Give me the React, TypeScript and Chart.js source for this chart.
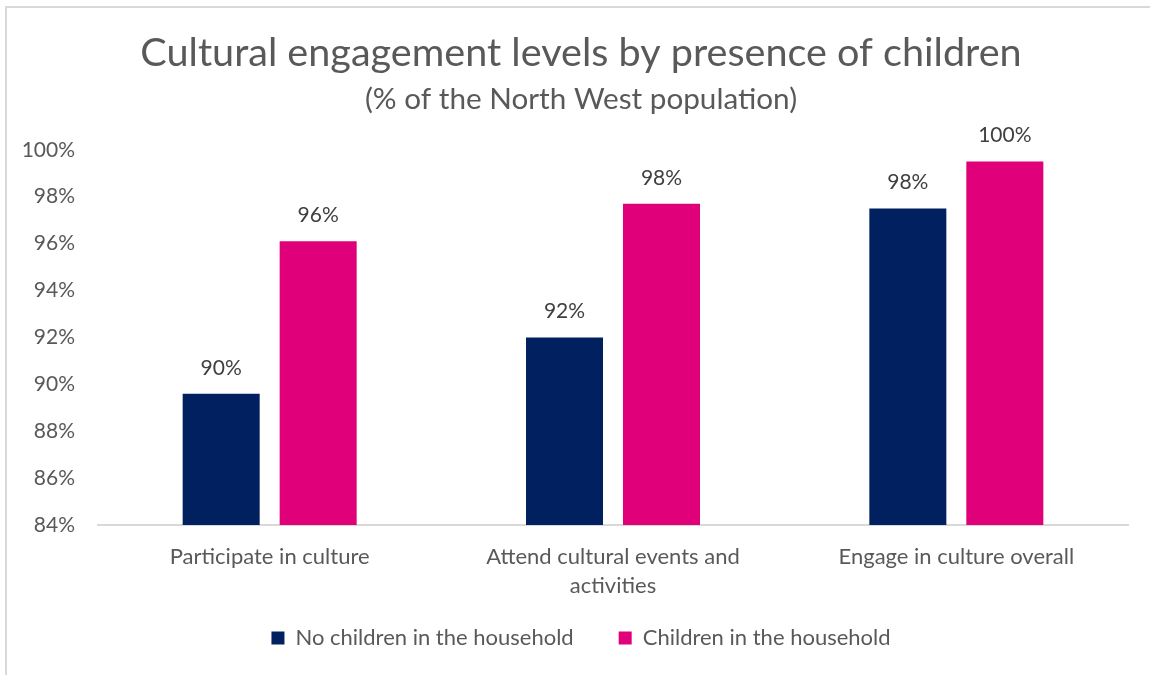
import React, { useEffect, useRef } from "react";
import { Chart, registerables } from "chart.js";

Chart.register(...registerables);

const categories: (string | string[])[] = [
  "Participate in culture",
  ["Attend cultural events and", "activities"],
  "Engage in culture overall",
];
const noChildren = [89.6, 92.0, 97.5];
const withChildren = [96.1, 97.7, 99.5];
const seriesNames = ["No children in the household", "Children in the household"];
const titleText = "Cultural engagement levels by presence of children";
const subtitleText = "(% of the North West population)";

const FONT = "Lato, 'Open Sans', sans-serif";
const GRAY = "#595959";

const dataLabels = {
  id: "dataLabels",
  afterDatasetsDraw(chart: any) {
    const ctx = chart.ctx;
    ctx.save();
    ctx.font = `21px ${FONT}`;
    ctx.fillStyle = "#404040";
    ctx.textAlign = "center";
    ctx.textBaseline = "alphabetic";
    chart.data.datasets.forEach((ds: any, i: number) => {
      const meta = chart.getDatasetMeta(i);
      meta.data.forEach((el: any, j: number) => {
        const v = ds.data[j];
        ctx.fillText(Math.round(v) + "%", el.x, el.y - 19);
      });
    });
    ctx.restore();
  },
};

// move the legend up closer to the axis labels, and widen the y-axis label clip box
const layoutTweaks = {
  id: "layoutTweaks",
  afterLayout(chart: any) {
    const l = chart.legend;
    if (l) {
      const d = 16;
      l.top -= d;
      l.bottom -= d;
    }
    const y = chart.scales.y;
    if (y) y.left = 0;
  },
};

export default function App() {
  const ref = useRef<HTMLCanvasElement>(null);
  useEffect(() => {
    if (!ref.current) return;
    const chart = new Chart(ref.current, {
      type: "bar",
      data: {
        labels: categories,
        datasets: [
          {
            label: seriesNames[0],
            data: noChildren,
            backgroundColor: "#002060",
            categoryPercentage: 0.565,
            barPercentage: 0.794,
          },
          {
            label: seriesNames[1],
            data: withChildren,
            backgroundColor: "#E0007A",
            categoryPercentage: 0.565,
            barPercentage: 0.794,
          },
        ],
      },
      options: {
        responsive: false,
        animation: false,
        layout: { padding: { left: 34, right: 22, top: 0, bottom: 0 } },
        plugins: {
          title: {
            display: true,
            text: titleText,
            color: GRAY,
            font: { family: FONT, size: 39.6, weight: "normal", lineHeight: 1.2 },
            padding: { top: 29, bottom: 0 },
          },
          subtitle: {
            display: true,
            text: subtitleText,
            color: GRAY,
            font: { family: FONT, size: 29.7, weight: "normal", lineHeight: 1.2 },
            padding: { top: 5.3, bottom: 32.3 },
          },
          legend: {
            position: "bottom",
            labels: {
              color: GRAY,
              font: { family: FONT, size: 22 },
              boxWidth: 13,
              boxHeight: 13,
              padding: 45,
            },
          },
          tooltip: { enabled: false },
        },
        scales: {
          x: {
            grid: { display: false, drawTicks: false },
            border: { display: true, color: "#d9d9d9", width: 2 },
            ticks: {
              color: GRAY,
              font: { family: FONT, size: 22, lineHeight: 1.32 },
              padding: 17.5,
              maxRotation: 0,
              autoSkip: false,
            },
            afterFit: (s: any) => {
              s.height = 73;
            },
          },
          y: {
            min: 84,
            max: 100,
            grid: { display: false, drawTicks: false },
            border: { display: false },
            ticks: {
              stepSize: 2,
              color: GRAY,
              font: { family: FONT, size: 21 },
              padding: 23,
              callback: (v: any) => v + "%",
            },
            afterFit: (s: any) => {
              s.width = 64;
            },
          },
        },
      },
      plugins: [dataLabels, layoutTweaks],
    });
    return () => chart.destroy();
  }, []);

  return (
    <div
      style={{
        position: "fixed",
        left: 0,
        top: 0,
        width: 1150,
        height: 675,
        overflow: "hidden",
        background: "#fff",
      }}
    >
      <div
        style={{
          position: "absolute",
          left: 5,
          top: 6,
          width: 1160,
          height: 700,
          borderLeft: "2px solid #d9d9d9",
          borderTop: "2px solid #d9d9d9",
          boxSizing: "border-box",
        }}
      />
      <canvas
        ref={ref}
        width={1150}
        height={675}
        style={{ position: "absolute", left: 0, top: 0 }}
      />
    </div>
  );
}
